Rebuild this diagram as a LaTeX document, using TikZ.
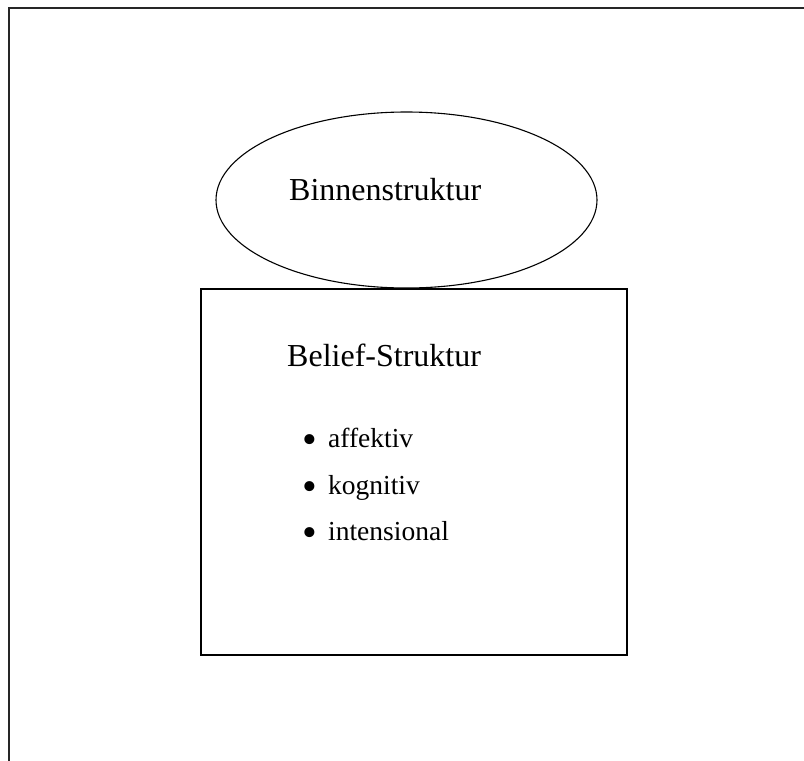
\documentclass[tikz,border=0pt]{standalone}
\usepackage{fontspec}
\setmainfont{Liberation Serif}
\usetikzlibrary{shapes.geometric}
\begin{document}
\begin{tikzpicture}[x=1pt,y=-1pt,
  frame/.style={line width=1.4pt,draw=black!85},
  shapeline/.style={line width=1.1pt,draw=black},
  heading/.style={anchor=base west,inner sep=0pt,font=\fontsize{32}{36}\selectfont},
  item/.style={anchor=base west,inner sep=0pt,font=\fontsize{27.5}{32}\selectfont},
  bul/.style={anchor=base,inner sep=0pt,font=\fontsize{42}{46}\selectfont}]
\useasboundingbox (0,0) rectangle (804,761);
\coordinate (fbl) at (9,761);
\coordinate (ftl) at (9,8);
\coordinate (ftr) at (804,8);
\draw[frame] (fbl) -- (ftl) -- (ftr);
\node[draw,shapeline,ellipse,minimum width=381,minimum height=176,inner sep=0pt] (binnen) at (406.5,200) {};
\node[draw,shapeline,rectangle,minimum width=426,minimum height=366,inner sep=0pt] (belief) at (414,472) {};
\node[heading] (t1) at (289,200.5) {Binnenstruktur};
\node[heading] (t2) at (287,366) {Belief-Struktur};
\node[bul] (b1) at (310,453.5) {•};
\node[item] (i1) at (328,447) {affektiv};
\node[bul] (b2) at (310,500.5) {•};
\node[item] (i2) at (328,494) {kognitiv};
\node[bul] (b3) at (310,546.5) {•};
\node[item] (i3) at (328,540) {intensional};
\end{tikzpicture}
\end{document}
